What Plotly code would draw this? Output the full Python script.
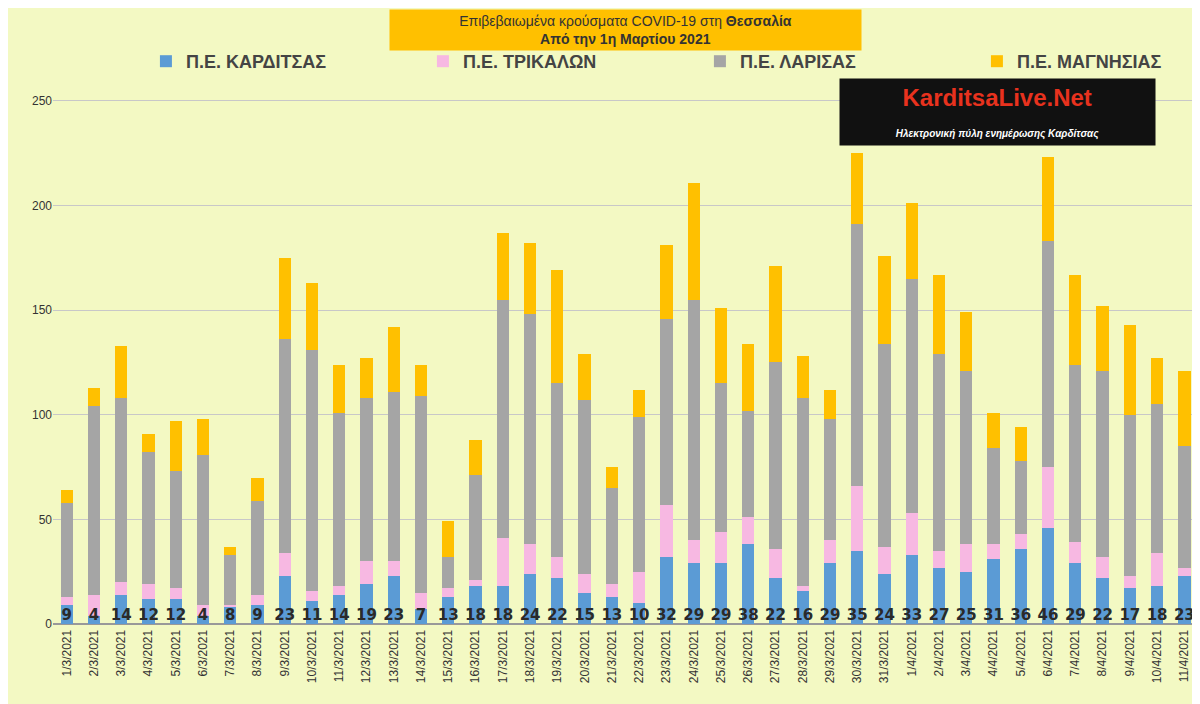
import plotly.graph_objects as go

dates = ["1/3/2021","2/3/2021","3/3/2021","4/3/2021","5/3/2021","6/3/2021","7/3/2021","8/3/2021","9/3/2021","10/3/2021",
"11/3/2021","12/3/2021","13/3/2021","14/3/2021","15/3/2021","16/3/2021","17/3/2021","18/3/2021","19/3/2021","20/3/2021",
"21/3/2021","22/3/2021","23/3/2021","24/3/2021","25/3/2021","26/3/2021","27/3/2021","28/3/2021","29/3/2021","30/3/2021",
"31/3/2021","1/4/2021","2/4/2021","3/4/2021","4/4/2021","5/4/2021","6/4/2021","7/4/2021","8/4/2021","9/4/2021","10/4/2021","11/4/2021"]
karditsa = [9,4,14,12,12,4,8,9,23,11,14,19,23,7,13,18,18,24,22,15,13,10,32,29,29,38,22,16,29,35,24,33,27,25,31,36,46,29,22,17,18,23]
trikala  = [4,10,6,7,5,5,1,5,11,5,4,11,7,8,4,3,23,14,10,9,6,15,25,11,15,13,14,2,11,31,13,20,8,13,7,7,29,10,10,6,16,4]
larisa   = [45,90,88,63,56,72,24,45,102,115,83,78,81,94,15,50,114,110,83,83,46,74,89,115,71,51,89,90,58,125,97,112,94,83,46,35,108,85,89,77,71,58]
magnesia = [6,9,25,9,24,17,4,11,39,32,23,19,31,15,17,17,32,34,54,22,10,13,35,56,36,32,46,20,14,34,42,36,38,28,17,16,40,43,31,43,22,36]

fig = go.Figure()
fig.add_bar(x=dates, y=karditsa, name="Π.Ε. ΚΑΡΔΙΤΣΑΣ", marker_color="#5b9bd5")
fig.add_bar(x=dates, y=trikala, name="Π.Ε. ΤΡΙΚΑΛΩΝ", marker_color="#f7b8e2")
fig.add_bar(x=dates, y=larisa, name="Π.Ε. ΛΑΡΙΣΑΣ", marker_color="#a5a5a5")
fig.add_bar(x=dates, y=magnesia, name="Π.Ε. ΜΑΓΝΗΣΙΑΣ", marker_color="#ffc000")
fig.add_scatter(x=dates, y=[0]*len(dates), mode="text", text=karditsa, textposition="top center",
                textfont=dict(size=15, color="#2a2a2a", family="DejaVu Sans", weight="bold"),
                showlegend=False, hoverinfo="skip", cliponaxis=False)

fig.update_traces(marker_line_width=0, selector=dict(type="bar"))
fig.update_layout(
    barmode="stack", bargap=0.55, width=1200, height=704,
    paper_bgcolor="#f3f9c3", plot_bgcolor="#f3f9c3",
    margin=dict(l=45, r=10, t=72, b=88, autoexpand=False),
    font=dict(family="Arial", color="#333"),
    legend=dict(orientation="h", x=0.565, xanchor="center", y=1.0, yanchor="bottom",
                font=dict(size=18, color="#444", family="Arial", weight="bold"), traceorder="normal",
                entrywidth=232, itemwidth=30),
    xaxis=dict(tickangle=-90, tickfont=dict(size=12), showline=True, linecolor="#999",
               range=[-0.5, len(dates) - 0.5], automargin=False),
    yaxis=dict(range=[0, 260], dtick=50, gridcolor="#c8c8c8", tickfont=dict(size=12),
               zeroline=True, zerolinecolor="#999", automargin=False),
    annotations=[
        dict(xref="paper", yref="paper", x=0.5, xanchor="center", y=1.13, yanchor="top", showarrow=False,
             text="Επιβεβαιωμένα κρούσματα COVID-19 στη <b>Θεσσαλία</b><br><b>Από την 1η Μαρτίου 2021</b>",
             font=dict(size=14, color="#333"), bgcolor="#ffc000", borderpad=3, width=465),
        dict(xref="paper", yref="paper", x=0.825, xanchor="center", y=1.003, yanchor="top", showarrow=False,
             text="<b>KarditsaLive.Net</b><br><span style='font-size:10px;color:#fff'><b><i>Ηλεκτρονική πύλη ενημέρωσης Καρδίτσας</i></b></span>",
             font=dict(size=24, color="#e8321e", family="Arial"), bgcolor="#111111", borderpad=5, width=305),
    ],
)
fig.write_html("out.html")
